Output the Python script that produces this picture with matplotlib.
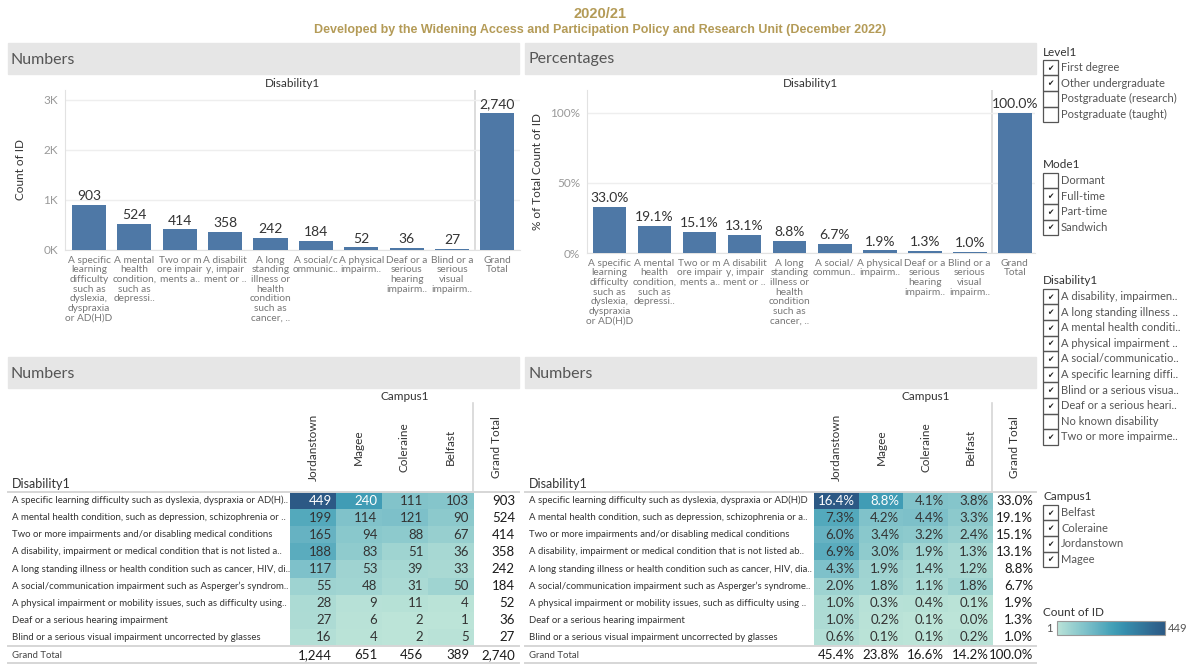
import numpy as np
import matplotlib
matplotlib.use("Agg")
import matplotlib.pyplot as plt
from matplotlib.colors import LinearSegmentedColormap, Normalize
from matplotlib.cm import ScalarMappable
from matplotlib.patches import Rectangle
import matplotlib.transforms as mtrans

plt.rcParams['font.family'] = ['Lato', 'DejaVu Sans']

# ---- data ----
bar_labels = ["A specific\nlearning\ndifficulty\nsuch as\ndyslexia,\ndyspraxia\nor AD(H)D",
              "A mental\nhealth\ncondition,\nsuch as\ndepressi..",
              "Two or m\nore impair\nments a..",
              "A disabilit\ny, impair\nment or ..",
              "A long\nstanding\nillness or\nhealth\ncondition\nsuch as\ncancer, ..",
              "A social/c\nommunic..",
              "A physical\nimpairm..",
              "Deaf or a\nserious\nhearing\nimpairm..",
              "Blind or a\nserious\nvisual\nimpairm..",
              "Grand\nTotal"]
pct_bar_labels = bar_labels[:5] + ["A social/\ncommun.."] + bar_labels[6:]
bar_counts = [903, 524, 414, 358, 242, 184, 52, 36, 27, 2740]
bar_pcts = [33.0, 19.1, 15.1, 13.1, 8.8, 6.7, 1.9, 1.3, 1.0, 100.0]

campuses = ["Jordanstown", "Magee", "Coleraine", "Belfast"]
rows_num = ["A specific learning difficulty such as dyslexia, dyspraxia or AD(H)..",
            "A mental health condition, such as depression, schizophrenia or ..",
            "Two or more impairments and/or disabling medical conditions",
            "A disability, impairment or medical condition that is not listed a..",
            "A long standing illness or health condition such as cancer, HIV, di..",
            "A social/communication impairment such as Asperger\u2019s syndrom..",
            "A physical impairment or mobility issues, such as difficulty using..",
            "Deaf or a serious hearing impairment",
            "Blind or a serious visual impairment uncorrected by glasses"]
rows_pct = ["A specific learning difficulty such as dyslexia, dyspraxia or AD(H)D",
            "A mental health condition, such as depression, schizophrenia or a..",
            "Two or more impairments and/or disabling medical conditions",
            "A disability, impairment or medical condition that is not listed ab..",
            "A long standing illness or health condition such as cancer, HIV, dia..",
            "A social/communication impairment such as Asperger\u2019s syndrome..",
            "A physical impairment or mobility issues, such as difficulty using ..",
            "Deaf or a serious hearing impairment",
            "Blind or a serious visual impairment uncorrected by glasses"]
counts = np.array([[449, 240, 111, 103],
                   [199, 114, 121, 90],
                   [165, 94, 88, 67],
                   [188, 83, 51, 36],
                   [117, 53, 39, 33],
                   [55, 48, 31, 50],
                   [28, 9, 11, 4],
                   [27, 6, 2, 1],
                   [16, 4, 2, 5]])
row_totals = [903, 524, 414, 358, 242, 184, 52, 36, 27]
col_totals = [1244, 651, 456, 389]
grand_total = 2740
pcts = np.array([[16.4, 8.8, 4.1, 3.8],
                 [7.3, 4.2, 4.4, 3.3],
                 [6.0, 3.4, 3.2, 2.4],
                 [6.9, 3.0, 1.9, 1.3],
                 [4.3, 1.9, 1.4, 1.2],
                 [2.0, 1.8, 1.1, 1.8],
                 [1.0, 0.3, 0.4, 0.1],
                 [1.0, 0.2, 0.1, 0.0],
                 [0.6, 0.1, 0.1, 0.2]])
row_pct_totals = [33.0, 19.1, 15.1, 13.1, 8.8, 6.7, 1.9, 1.3, 1.0]
col_pct_totals = [45.4, 23.8, 16.6, 14.2]
grand_pct = 100.0

filters = [
    ("Level1", ["First degree", "Other undergraduate", "Postgraduate (research)", "Postgraduate (taught)"],
     [1, 1, 0, 0], 52),
    ("Mode1", ["Dormant", "Full-time", "Part-time", "Sandwich"], [0, 1, 1, 1], 165),
    ("Disability1", ["A disability, impairmen..", "A long standing illness ..", "A mental health conditi..",
                     "A physical impairment ..", "A social/communicatio..", "A specific learning diffi..",
                     "Blind or a serious visua..", "Deaf or a serious heari..", "No known disability",
                     "Two or more impairme.."], [1, 1, 1, 1, 1, 1, 1, 1, 0, 1], 281),
    ("Campus1", ["Belfast", "Coleraine", "Jordanstown", "Magee"], [1, 1, 1, 1], 497),
]

# ---- style ----
W, H = 1200, 664
GOLD = '#B49B57'
BAR = '#4E78A6'
cmap = LinearSegmentedColormap.from_list('blueteal', [
    "#bce4d8", "#aedcd5", "#a1d5d2", "#95cecf", "#89c8cc", "#7ec1ca", "#72bac6",
    "#66b2c2", "#59acbe", "#4ba5ba", "#419eb6", "#3b96b2", "#358ead", "#3586a7",
    "#347ea1", "#32779b", "#316f96", "#2f6790", "#2d608a", "#2c5985"])
norm = Normalize(1, 449)

fig = plt.figure(figsize=(W / 100, H / 100), dpi=100)


def px_axes(l, t, r, b):
    return fig.add_axes([l / W, 1 - b / H, (r - l) / W, (b - t) / H])


def ftext(x, y, s, **kw):
    return fig.text(x / W, 1 - y / H, s, **kw)


def header(l, r, t, b, s):
    fig.patches.append(Rectangle((l / W, 1 - b / H), (r - l) / W, (b - t) / H,
                                 transform=fig.transFigure, color='#E6E6E6', zorder=0))
    ftext(l + 3, (t + b) / 2 + 1, s, fontsize=11.5, color='#555555', va='center')


ftext(600, 14, "2020/21", ha='center', va='center', fontsize=10.5,
      fontweight='bold', color=GOLD, family='Liberation Sans')
ftext(600, 30, "Developed by the Widening Access and Participation Policy and Research Unit (December 2022)",
      ha='center', va='center', fontsize=9, fontweight='bold', color=GOLD, family='Liberation Sans')

header(8, 519, 43, 74, "Numbers")
header(525, 1036, 43, 74, "Percentages")
header(8, 519, 357, 388, "Numbers")
header(525, 1036, 357, 388, "Numbers")


def bar_chart(ax, vals, labels, ticks, ticklabels, ylabel, fmt, ymax, xl):
    x = np.arange(len(vals))
    bars = ax.bar(x, vals, width=0.75, color=BAR, zorder=3)
    ax.bar_label(bars, labels=[fmt(v) for v in vals], padding=2, fontsize=10, color='#333333')
    ax.set_xlim(*xl)
    ax.set_ylim(0, ymax)
    ax.set_yticks(ticks, ticklabels)
    ax.set_xticks(x, labels)
    for t in ax.get_xticklabels():
        t.set_linespacing(1.1)
    ax.tick_params(length=0)
    ax.tick_params(axis='y', labelsize=8.5, labelcolor='#999999', pad=5)
    ax.tick_params(axis='x', labelsize=7.3, labelcolor='#777777', pad=4)
    ax.grid(axis='y', color='#EEEEEE', lw=1, zorder=0)
    for s in ['top', 'right']:
        ax.spines[s].set_visible(False)
    for s in ['left', 'bottom']:
        ax.spines[s].set_color('#E2E2E2')
    ax.axvline(8.5, color='#DADADA', lw=1.3, zorder=1)
    ax.set_title("Disability1", fontsize=8.5, color='#333333', pad=2)
    ax.set_ylabel(ylabel, fontsize=8.5, color='#333333')


ax1 = px_axes(65, 90, 520, 250)
bar_chart(ax1, bar_counts, bar_labels, [0, 1000, 2000, 3000], ["0K", "1K", "2K", "3K"],
          "Count of ID", lambda v: f"{v:,}", 3200, (-0.53, 9.5))
ax1.yaxis.set_label_coords(-0.085, 0.5)

ax2 = px_axes(587, 90, 1035, 253)
bar_chart(ax2, bar_pcts, pct_bar_labels, [0, 50, 100], ["0%", "50%", "100%"],
          "% of Total Count of ID", lambda v: f"{v:.1f}%", 116.4, (-0.5, 9.45))
ax2.yaxis.set_label_coords(-0.098, 0.5)


def table(ax, left_px, cells, rtot, ctot, gtot, fmt, rlabels):
    ax.imshow(counts, cmap=cmap, norm=norm, extent=(-0.5, 3.5, 8.5, -0.5),
              aspect='auto', interpolation='nearest')
    ax.set_xlim(-0.5, 4.5)
    ax.set_ylim(8.5, -0.5)
    ax.axis('off')
    tr = mtrans.blended_transform_factory(fig.transFigure, ax.transData)
    for i in range(cells.shape[0]):
        for j in range(cells.shape[1]):
            c = 'white' if counts[i, j] > 200 else '#333333'
            ax.text(j + 0.41, i, fmt(cells[i, j]), ha='right', va='center',
                    fontsize=9.5, color=c)
        ax.text(4.41, i, fmt(rtot[i]), ha='right', va='center', fontsize=9.5, color='#1a1a1a')
        ax.text((left_px + 4) / W, i, rlabels[i], transform=tr, ha='left', va='center',
                fontsize=6.9, color='#333333')
    for j in range(len(ctot)):
        ax.text(j + 0.41, 9.05, fmt(ctot[j]), ha='right', va='center', fontsize=9.5,
                color='#1a1a1a', clip_on=False)
    ax.text(4.41, 9.05, fmt(gtot), ha='right', va='center', fontsize=9.5,
            color='#1a1a1a', clip_on=False)
    ax.text((left_px + 4) / W, 9.05, "Grand Total", transform=tr, ha='left', va='center',
            fontsize=6.9, color='#444444')
    ax.text((left_px + 4) / W, -0.97, "Disability1", transform=tr, ha='left', va='center',
            fontsize=9, color='#333333')
    for j, name in enumerate(campuses + ["Grand Total"]):
        ax.text(j, -3.13, name, rotation=90, ha='center', va='center', fontsize=8.5,
                color='#333333', clip_on=False)
    ax.text(2, -6.06, "Campus1", ha='center', va='center', fontsize=8.5, color='#333333',
            clip_on=False)
    for y in [-0.5, 8.5, 9.5]:
        ax.plot([left_px / W, (left_px + 511) / W], [y, y], transform=tr, color='#D6D6D6',
                lw=1.4, clip_on=False)
    ax.plot([3.5, 3.5], [-5.7, -0.5], color='#D6D6D6', lw=1.2, clip_on=False)


ax3 = px_axes(290, 492, 519, 646)
table(ax3, 8, counts, row_totals, col_totals, grand_total, lambda v: f"{v:,}", rows_num)

ax4 = px_axes(814, 492, 1037, 646)
table(ax4, 525, pcts, row_pct_totals, col_pct_totals, grand_pct, lambda v: f"{v:.1f}%", rows_pct)

# ---- filter panel ----
for title, items, checked, ty in filters:
    ftext(1043, ty, title, fontsize=8.5, color='#333333', va='center')
    for k, (item, on) in enumerate(zip(items, checked)):
        yc = ty + 15.6 * (k + 1)
        fig.patches.append(Rectangle((1043 / W, 1 - (yc + 7.8) / H), 15 / W, 15.6 / H,
                                     transform=fig.transFigure, fill=False,
                                     edgecolor='#555555', lw=0.9))
        if on:
            ftext(1050.5, yc + 0.5, "\u2714", fontsize=5.5, color='#222222',
                  ha='center', va='center', family='DejaVu Sans')
        ftext(1061, yc, item, fontsize=8, color='#555555', va='center')

ftext(1043, 612, "Count of ID", fontsize=8.5, color='#333333', va='center')
cax = px_axes(1057, 621, 1165, 635)
cb = fig.colorbar(ScalarMappable(norm=norm, cmap=cmap), cax=cax, orientation='horizontal')
cb.set_ticks([])
cb.outline.set_edgecolor('#999999')
ftext(1053, 628, "1", fontsize=8, color='#555555', ha='right', va='center')
ftext(1168, 628, "449", fontsize=8, color='#555555', ha='left', va='center')

fig.savefig("out.png", dpi=100)
